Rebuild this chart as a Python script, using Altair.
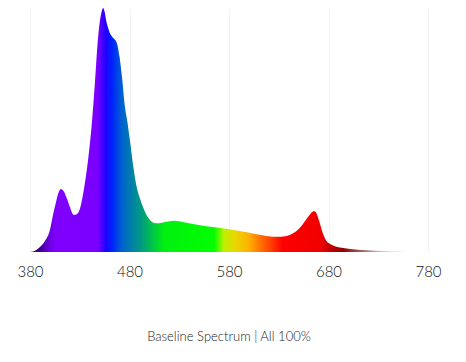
import altair as alt
import pandas as pd

# Spectrum (wavelength in nm, relative intensity)
wavelength = [380, 384, 390, 395, 400, 403, 405, 408, 411, 414, 417, 420, 424, 427, 430,
              433, 436, 439, 442, 445, 448, 450, 452, 453.5, 455, 456.5, 458, 460,
              463, 467, 470, 472.5, 475.5, 478, 481, 484, 487, 490, 494, 498, 502, 506,
              510, 515, 520, 525, 530, 537, 545, 557, 570, 580, 592, 604, 615, 624, 632,
              638, 644, 649, 653, 657, 661, 664, 666, 668, 670, 672, 675, 678, 682, 687,
              693, 700, 710, 720, 735, 750, 762, 780]
intensity = [0.0, 0.003, 0.02, 0.045, 0.09, 0.15, 0.185, 0.235, 0.258, 0.248, 0.22, 0.185,
             0.152, 0.155, 0.175, 0.23, 0.305, 0.40, 0.52, 0.68, 0.86, 0.94, 0.985,
             1.0, 0.985, 0.95, 0.925, 0.90, 0.88, 0.86, 0.80, 0.716, 0.593, 0.53, 0.44,
             0.345, 0.27, 0.225, 0.18, 0.145, 0.125, 0.118, 0.118, 0.122, 0.126, 0.128,
             0.126, 0.12, 0.114, 0.106, 0.099, 0.093, 0.085, 0.076, 0.068, 0.063, 0.063,
             0.066, 0.076, 0.09, 0.108, 0.13, 0.152, 0.165, 0.167, 0.158, 0.135, 0.108,
             0.07, 0.045, 0.032, 0.023, 0.017, 0.013, 0.009, 0.007, 0.004, 0.002, 0.0005,
             0.0]

tick_values = [380, 480, 580, 680, 780]
title_text = "Baseline Spectrum  | All 100%"

# Gradient colour stops (wavelength -> colour)
stop_nm = [380, 390, 398, 406, 448, 456, 462, 472, 482, 492, 505, 515, 565, 575, 586,
           600, 612, 622, 634, 672, 682, 695, 715, 740, 780]
stop_color = ["#2a0060", "#40008c", "#6600d8", "#8000ff", "#7a00ff", "#2000ff", "#0020ff",
              "#0060d0", "#0080a8", "#009a80", "#00cc40", "#00f010", "#00ff00", "#c0f000",
              "#e8d800", "#ffb000", "#ff7000", "#ff4000", "#ff0000", "#f00000", "#c00000",
              "#900000", "rgba(140,70,70,0.8)", "rgba(190,160,160,0.5)",
              "rgba(230,220,220,0.2)"]

df = pd.DataFrame({"nm": wavelength, "v": intensity})

lo, hi = min(wavelength), max(wavelength)
stops = [alt.GradientStop(color=c, offset=(n - lo) / (hi - lo))
         for n, c in zip(stop_nm, stop_color)]

x_enc = alt.X("nm:Q",
              scale=alt.Scale(domain=[380, 780], nice=False, zero=False),
              axis=alt.Axis(values=tick_values, title=None, domain=False, ticks=False,
                            grid=True, gridColor="#f4f4f4", gridWidth=1,
                            labelFont="Lato", labelFontWeight=300, labelFontSize=15,
                            labelColor="#111111", labelPadding=12, labelFlush=False))

area = alt.Chart(df).mark_area(
    line=False,
    interpolate="monotone",
    color=alt.Gradient(gradient="linear", stops=stops, x1=0, x2=1, y1=0, y2=0),
).encode(
    x=x_enc,
    y=alt.Y("v:Q", scale=alt.Scale(domain=[0, 1], nice=False), axis=None),
)

chart = area.properties(
    width=398,
    height=244,
    autosize=alt.AutoSizeParams(type="none"),
    padding={"left": 22, "top": 0, "right": 24, "bottom": 102},
    title=alt.TitleParams(title_text, orient="bottom", offset=52, fontSize=13,
                          font="Lato", fontWeight=300, color="#222222",
                          anchor="middle"),
).configure_view(stroke=None)

chart.save("out.html", embed_options={"renderer": "svg", "actions": False})
